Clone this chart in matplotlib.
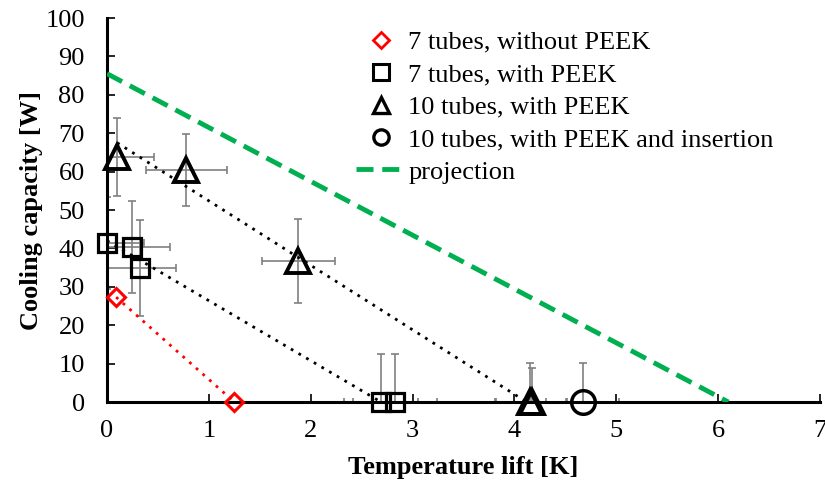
import numpy as np
import matplotlib
matplotlib.use("Agg")
import matplotlib.pyplot as plt
from matplotlib.lines import Line2D

plt.rcParams['font.family'] = ['Liberation Serif', 'DejaVu Serif']

# measured points: temperature lift [K], cooling capacity [W] and uncertainties
dia_x = [0.09, 1.25]
dia_y = [27.3, 0.0]

sq_x = [0.0, 0.245, 0.32, 2.69, 2.83]
sq_y = [41.4, 40.4, 34.9, 0.0, 0.0]
sq_xerr = [0.36, 0.37, 0.36, 0.365, 0.41]
sq_yerr = [12.0, 12.0, 12.5, 12.4, 12.4]

tri_x = [0.10, 0.78, 1.88, 4.155, 4.17]
tri_y = [63.8, 60.4, 36.7, 0.0, 0.0]
tri_xerr = [0.36, 0.40, 0.355, 0.35, 0.35]
tri_yerr = [10.2, 9.3, 11.0, 10.1, 8.8]

circ_x = [4.67]
circ_y = [0.0]
circ_xerr = [0.36]
circ_yerr = [10.1]

# trend lines (end points)
dia_fit_x = [0.09, 1.25]
dia_fit_y = [27.3, 0.0]
sq_fit_x = [0.0, 2.69]
sq_fit_y = [42.0, 0.0]
tri_fit_x = [0.10, 4.12]
tri_fit_y = [67.5, 0.0]
proj_x = [0.0, 6.1]
proj_y = [85.5, 0.0]

green = '#00B050'
gray = '#808080'

fig = plt.figure(figsize=(8.25, 4.84), dpi=100)
ax = fig.add_axes([0.1297, 0.1694, 0.8642, 0.7934])

# error bars
eb = dict(fmt='none', ecolor=gray, elinewidth=1.2, capsize=3, capthick=1.2, zorder=2)
ax.errorbar(sq_x, sq_y, xerr=sq_xerr, yerr=sq_yerr, **eb)
ax.errorbar(tri_x, tri_y, xerr=tri_xerr, yerr=tri_yerr, **eb)
ax.errorbar(circ_x, circ_y, xerr=circ_xerr, yerr=circ_yerr, **eb)

# trend lines
ax.plot(dia_fit_x, dia_fit_y, color='red', ls=(0, (1, 2.2)), lw=2, zorder=3)
ax.plot(sq_fit_x, sq_fit_y, color='black', ls=(0, (1, 2.2)), lw=2, zorder=3)
ax.plot(tri_fit_x, tri_fit_y, color='black', ls=(0, (1, 2.2)), lw=2, zorder=3)
ax.plot(proj_x, proj_y, color=green, ls=(0, (3.5, 1.8)), lw=3.5, zorder=3)

# markers
ax.plot(dia_x, dia_y, 'D', ms=9, mfc='none', mec='red', mew=2.2, clip_on=False, zorder=5)
ax.plot(sq_x, sq_y, 's', ms=13, mfc='none', mec='black', mew=2.3, clip_on=False, zorder=5)
ax.plot(tri_x, tri_y, '^', ms=17, mfc='none', mec='black', mew=2.8, clip_on=False, zorder=5)
ax.plot(circ_x, circ_y, 'o', ms=17, mfc='none', mec='black', mew=2.5, clip_on=False, zorder=5)

ax.set_xlim(0, 7)
ax.set_ylim(0, 100)
ax.set_xticks(np.arange(0, 8, 1))
ax.set_yticks(np.arange(0, 101, 10))
for s in ['top', 'right']:
    ax.spines[s].set_visible(False)
for s in ['left', 'bottom']:
    ax.spines[s].set_linewidth(2.2)
ax.tick_params(direction='in', length=6, width=1.2, labelsize=19)
ax.tick_params(axis='y', pad=16)
ax.tick_params(axis='x', pad=13)

ax.set_xlabel('Temperature lift [K]', fontsize=19, fontweight='bold', labelpad=10)
ax.set_ylabel('Cooling capacity [W]', fontsize=19, fontweight='bold', labelpad=2)

handles = [
    Line2D([], [], ls='none', marker='D', ms=8, mfc='none', mec='red', mew=2),
    Line2D([], [], ls='none', marker='s', ms=11, mfc='none', mec='black', mew=2.2),
    Line2D([], [], ls='none', marker='^', ms=11, mfc='none', mec='black', mew=2.4),
    Line2D([], [], ls='none', marker='o', ms=11, mfc='none', mec='black', mew=2.4),
    Line2D([], [], color=green, ls=(0, (3.5, 1.8)), lw=3.5),
]
labels = ['7 tubes, without PEEK', '7 tubes, with PEEK', '10 tubes, with PEEK',
          '10 tubes, with PEEK and insertion', 'projection']
ax.legend(handles, labels, loc='upper left', bbox_to_anchor=(0.334, 0.995), frameon=False,
          fontsize=19, handlelength=1.9, handletextpad=0.1, labelspacing=0.34,
          borderaxespad=0)

fig.savefig('out.png', dpi=100)
